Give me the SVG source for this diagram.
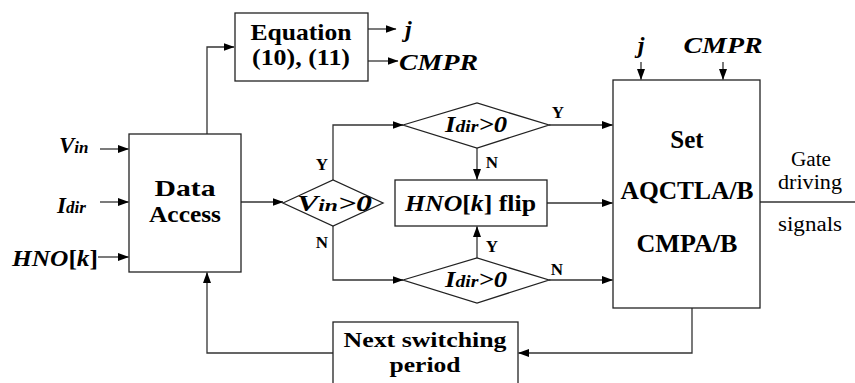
<svg xmlns="http://www.w3.org/2000/svg" width="855" height="383" viewBox="0 0 855 383">
<style>
.box{fill:#fff;stroke:#222;stroke-width:1.3}
.ln{fill:none;stroke:#333;stroke-width:1.3}
.arr{marker-end:url(#ah)}
text{font-family:"Liberation Serif","Times New Roman",serif;fill:#000}
.b{font-weight:bold}
.bi{font-weight:bold;font-style:italic}
.yn{font-weight:bold;font-size:17px}
.r{font-size:20px}
</style>
<defs>
<marker id="ah" markerUnits="userSpaceOnUse" markerWidth="11" markerHeight="8" refX="10.5" refY="4" orient="auto">
<path d="M0,0 L11,4 L0,8 z" fill="#000"/>
</marker>
</defs>
<g id="connectors">
<path class="ln arr" d="M207,134 V47 H234"/>
<path class="ln arr" d="M368,29 H396"/>
<path class="ln arr" d="M368,61 H398"/>
<path class="ln arr" d="M100,149 H128.5"/>
<path class="ln arr" d="M100,202 H128.5"/>
<path class="ln arr" d="M98,257 H128.5"/>
<path class="ln arr" d="M241,202 H283"/>
<path class="ln arr" d="M333,180 V125 H403"/>
<path class="ln arr" d="M333,226 V280 H403"/>
<path class="ln arr" d="M477,148 V179.5"/>
<path class="ln arr" d="M477,258 V226.5"/>
<path class="ln arr" d="M549,125 H612.5"/>
<path class="ln arr" d="M547,203 H612.5"/>
<path class="ln arr" d="M549,280 H612.5"/>
<path class="ln arr" d="M641,62 V79.5"/>
<path class="ln arr" d="M723,62 V79.5"/>
<path class="ln" d="M760,202 H855"/>
<path class="ln arr" d="M692,308 V353 H518.5"/>
<path class="ln arr" d="M333,353 H207 V272.5"/>
</g>
<g id="equation">
<rect class="box" x="235" y="13" width="133" height="68"/>
<text class="b" font-size="23" x="301" y="40" text-anchor="middle" textLength="101" lengthAdjust="spacingAndGlyphs">Equation</text>
<text class="b" font-size="23" x="301" y="65" text-anchor="middle" textLength="98" lengthAdjust="spacingAndGlyphs">(10), (11)</text>
</g>
<g id="eq-outputs">
<text class="bi" font-size="24" x="405" y="37">j</text>
<text class="bi" font-size="24" x="399" y="70" textLength="79" lengthAdjust="spacingAndGlyphs">CMPR</text>
</g>
<g id="inputs">
<text class="bi" font-size="23" x="59" y="153">V<tspan font-size="17">in</tspan></text>
<text class="bi" font-size="23" x="57" y="213">I<tspan font-size="17">dir</tspan></text>
<text class="bi" font-size="24" x="12" y="266" textLength="86" lengthAdjust="spacingAndGlyphs">HNO<tspan font-style="normal">[</tspan>k<tspan font-style="normal">]</tspan></text>
</g>
<g id="data-access">
<rect class="box" x="129" y="134" width="112" height="138"/>
<text class="b" font-size="23" x="185" y="196" text-anchor="middle" textLength="61" lengthAdjust="spacingAndGlyphs">Data</text>
<text class="b" font-size="23" x="185" y="222" text-anchor="middle" textLength="72" lengthAdjust="spacingAndGlyphs">Access</text>
</g>
<g id="vin-decision">
<polygon class="box" points="283,203 333,180 383,203 333,226"/>
<text class="bi" font-size="23" x="297" y="211" textLength="75" lengthAdjust="spacingAndGlyphs">V<tspan font-size="17">in</tspan>&gt;0</text>
<text class="yn" x="322" y="170" text-anchor="middle">Y</text>
<text class="yn" x="322" y="248" text-anchor="middle">N</text>
</g>
<g id="idir-top">
<polygon class="box" points="403,125 477,103 549,125 477,148"/>
<text class="bi" font-size="23" x="445" y="132" textLength="62" lengthAdjust="spacingAndGlyphs">I<tspan font-size="17">dir</tspan>&gt;0</text>
<text class="yn" x="558" y="118" text-anchor="middle">Y</text>
<text class="yn" x="492" y="168" text-anchor="middle">N</text>
</g>
<g id="hno-flip">
<rect class="box" x="395" y="180" width="152" height="46"/>
<text class="bi" font-size="24" x="405" y="211" textLength="131" lengthAdjust="spacingAndGlyphs">HNO<tspan font-style="normal">[</tspan>k<tspan font-style="normal">] flip</tspan></text>
</g>
<g id="idir-bottom">
<polygon class="box" points="403,280 477,258 549,280 477,303"/>
<text class="bi" font-size="23" x="445" y="287" textLength="62" lengthAdjust="spacingAndGlyphs">I<tspan font-size="17">dir</tspan>&gt;0</text>
<text class="yn" x="492" y="252" text-anchor="middle">Y</text>
<text class="yn" x="557" y="275" text-anchor="middle">N</text>
</g>
<g id="set-box">
<rect class="box" x="613" y="80" width="147" height="228"/>
<text class="b" font-size="25" x="687" y="148" text-anchor="middle">Set</text>
<text class="b" font-size="25" x="687" y="199" text-anchor="middle" textLength="133" lengthAdjust="spacingAndGlyphs">AQCTLA/B</text>
<text class="b" font-size="25" x="687" y="252" text-anchor="middle" textLength="101" lengthAdjust="spacingAndGlyphs">CMPA/B</text>
</g>
<g id="set-inputs">
<text class="bi" font-size="24" x="641" y="53" text-anchor="middle">j</text>
<text class="bi" font-size="24" x="723" y="53" text-anchor="middle" textLength="79" lengthAdjust="spacingAndGlyphs">CMPR</text>
</g>
<g id="gate-label">
<text class="r" x="811" y="166" text-anchor="middle" textLength="40" lengthAdjust="spacingAndGlyphs">Gate</text>
<text class="r" x="810" y="188.5" text-anchor="middle" textLength="64" lengthAdjust="spacingAndGlyphs">driving</text>
<text class="r" x="810" y="231" text-anchor="middle" textLength="64" lengthAdjust="spacingAndGlyphs">signals</text>
</g>
<g id="next-period">
<rect class="box" x="333" y="322" width="185" height="70"/>
<text class="b" font-size="22" x="425" y="347" text-anchor="middle" textLength="163" lengthAdjust="spacingAndGlyphs">Next switching</text>
<text class="b" font-size="22" x="425" y="372" text-anchor="middle" textLength="71" lengthAdjust="spacingAndGlyphs">period</text>
</g>
</svg>
